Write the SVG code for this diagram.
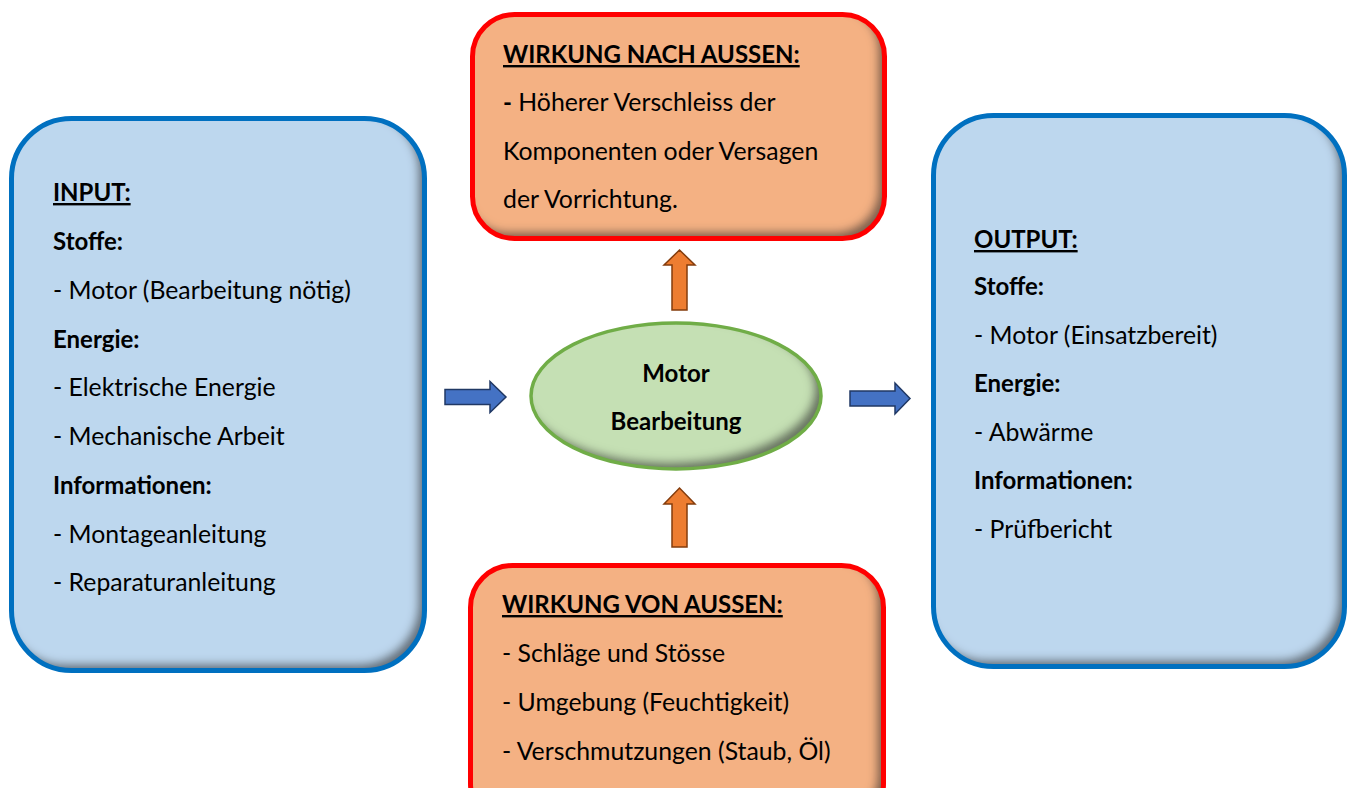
<svg xmlns="http://www.w3.org/2000/svg" width="1351" height="788" viewBox="0 0 1351 788">
  <defs>
    <!-- soft inner shade along the lower/right inside edge of each shape -->
    <filter id="innerShade" x="-5%" y="-5%" width="110%" height="110%">
      <feGaussianBlur in="SourceAlpha" stdDeviation="4" result="blur"/>
      <feOffset in="blur" dx="-7" dy="-7" result="shifted"/>
      <feComposite in="SourceAlpha" in2="shifted" operator="out" result="edge"/>
      <feFlood flood-color="#3a3a3a" flood-opacity="0.8"/>
      <feComposite in2="edge" operator="in" result="shade"/>
      <feMerge>
        <feMergeNode in="SourceGraphic"/>
        <feMergeNode in="shade"/>
      </feMerge>
    </filter>
  </defs>
  <style>
    text { font-family: Lato, "Open Sans", "Liberation Sans", sans-serif; font-size: 24.8px; fill: #000; }
    .b { font-weight: bold; font-size: 24px; }
    .u { font-weight: bold; font-size: 24px; text-decoration: underline; }
    .blueFill { fill: #BDD7EE; }
    .blueLine { fill: none; stroke: #0070C0; stroke-width: 5; }
    .orangeFill { fill: #F4B183; }
    .redLine { fill: none; stroke: #FF0000; stroke-width: 5; }
    .greenFill { fill: #C5E0B4; }
    .greenLine { fill: none; stroke: #70AD47; stroke-width: 3.5; }
    .flowArrow { fill: #4472C4; stroke: #203864; stroke-width: 1.5; stroke-linejoin: miter; }
    .effectArrow { fill: #ED7D31; stroke: #843C0C; stroke-width: 1.5; stroke-linejoin: miter; }
  </style>

  <rect width="1351" height="788" fill="#FFFFFF"/>

  <!-- Input -->
  <g id="input">
    <rect class="blueFill" x="11.5" y="118.5" width="413" height="552" rx="60" filter="url(#innerShade)"/>
    <rect class="blueLine" x="11.5" y="118.5" width="413" height="552" rx="60"/>
    <text x="53" y="201" class="u">INPUT:</text>
    <text x="53" y="250" class="b">Stoffe:</text>
    <text x="53" y="299">- Motor (Bearbeitung nötig)</text>
    <text x="53" y="348" class="b">Energie:</text>
    <text x="53" y="396">- Elektrische Energie</text>
    <text x="53" y="445">- Mechanische Arbeit</text>
    <text x="53" y="494" class="b">Informationen:</text>
    <text x="53" y="543">- Montageanleitung</text>
    <text x="53" y="591">- Reparaturanleitung</text>
  </g>

  <!-- Wirkung nach aussen -->
  <g id="wirkung-nach-aussen">
    <rect class="orangeFill" x="472.5" y="14.5" width="412" height="224" rx="42" filter="url(#innerShade)"/>
    <rect class="redLine" x="472.5" y="14.5" width="412" height="224" rx="42"/>
    <text x="503" y="63" class="u">WIRKUNG NACH AUSSEN:</text>
    <text x="503" y="111"><tspan class="b">-</tspan> Höherer Verschleiss der</text>
    <text x="503" y="160">Komponenten oder Versagen</text>
    <text x="503" y="208">der Vorrichtung.</text>
  </g>

  <!-- Process -->
  <g id="prozess">
    <ellipse class="greenFill" cx="676" cy="396" rx="145" ry="73" filter="url(#innerShade)"/>
    <ellipse class="greenLine" cx="676" cy="396" rx="145" ry="73"/>
    <text x="676" y="382" class="b" text-anchor="middle">Motor</text>
    <text x="676" y="430" class="b" text-anchor="middle">Bearbeitung</text>
  </g>

  <!-- Wirkung von aussen -->
  <g id="wirkung-von-aussen">
    <rect class="orangeFill" x="470.5" y="565.5" width="413" height="260" rx="42" filter="url(#innerShade)"/>
    <rect class="redLine" x="470.5" y="565.5" width="413" height="260" rx="42"/>
    <text x="502" y="613" class="u">WIRKUNG VON AUSSEN:</text>
    <text x="502" y="662">- Schläge und Stösse</text>
    <text x="502" y="711">- Umgebung (Feuchtigkeit)</text>
    <text x="502" y="760">- Verschmutzungen (Staub, Öl)</text>
  </g>

  <!-- Output -->
  <g id="output">
    <rect class="blueFill" x="933.5" y="115.5" width="411" height="551" rx="60" filter="url(#innerShade)"/>
    <rect class="blueLine" x="933.5" y="115.5" width="411" height="551" rx="60"/>
    <text x="974" y="248" class="u">OUTPUT:</text>
    <text x="974" y="295" class="b">Stoffe:</text>
    <text x="974" y="344">- Motor (Einsatzbereit)</text>
    <text x="974" y="392" class="b">Energie:</text>
    <text x="974" y="441">- Abwärme</text>
    <text x="974" y="489" class="b">Informationen:</text>
    <text x="974" y="538">- Prüfbericht</text>
  </g>

  <!-- Connectors: block arrows -->
  <g id="connectors">
    <path class="flowArrow" d="M445 389.5 H490 V381.5 L506 397 L490 412.5 V404.5 H445 Z"/>
    <path class="flowArrow" d="M850 391 H895 V383 L910 398.5 L895 414 V406 H850 Z"/>
    <path class="effectArrow" d="M672 310 V265 H664 L679.5 250 L695 265 H687 V310 Z"/>
    <path class="effectArrow" d="M672 547 V504 H664 L679.5 488 L695 504 H687 V547 Z"/>
  </g>
</svg>
